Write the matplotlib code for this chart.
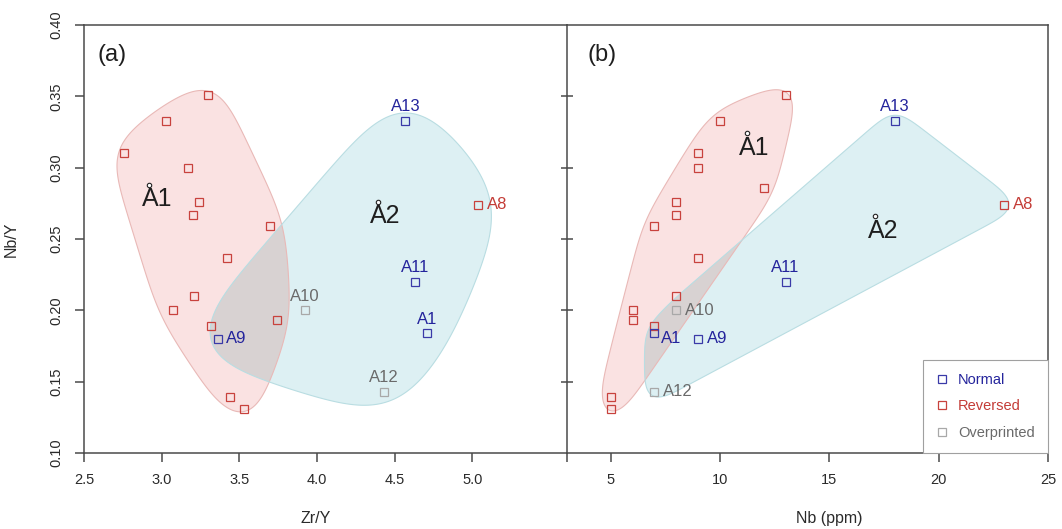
import numpy as np
import matplotlib
matplotlib.use("Agg")
import matplotlib.pyplot as plt
from matplotlib.patches import Polygon
from matplotlib.lines import Line2D

plt.rcParams['font.family'] = ['Liberation Sans', 'DejaVu Sans']

# unlabelled reversed samples (group A1)
rev_zr_y = [2.76, 3.03, 3.30, 3.17, 3.24, 3.20, 3.70, 3.42, 3.21, 3.07, 3.32, 3.74, 3.44, 3.53]
rev_nb_y_a = [0.310, 0.333, 0.351, 0.300, 0.276, 0.267, 0.259, 0.237, 0.210, 0.200, 0.189, 0.193, 0.139, 0.131]
rev_nb = [9, 10, 13, 9, 12, 8, 8, 7, 9, 8, 6, 6, 7, 5, 5]
rev_nb_y_b = [0.310, 0.333, 0.351, 0.300, 0.286, 0.276, 0.267, 0.259, 0.237, 0.210, 0.200, 0.193, 0.189, 0.139, 0.131]

# labelled samples (group A2)
names = ['A1', 'A8', 'A9', 'A10', 'A11', 'A12', 'A13']
zr_y = [4.71, 5.04, 3.36, 3.92, 4.63, 4.43, 4.57]
nb = [7, 23, 9, 8, 13, 7, 18]
nb_y = [0.184, 0.274, 0.180, 0.200, 0.220, 0.143, 0.333]
polarity = ['Normal', 'Reversed', 'Normal', 'Overprinted', 'Normal', 'Overprinted', 'Normal']
where_a = ['above', 'right', 'right', 'above', 'above', 'above', 'above']
where_b = ['right_low', 'right', 'right', 'right', 'above', 'right', 'above']

# group name anchors
group_names = ['A1', 'A2']
group_a_x = [2.92, 4.39]
group_a_y = [0.288, 0.276]
group_b_x = [11.23, 17.1]
group_b_y = [0.324, 0.266]

mark_col = {'Normal': '#3a3aa8', 'Reversed': '#c8423d', 'Overprinted': '#a8a8a8'}
text_col = {'Normal': '#24249c', 'Reversed': '#c43c37', 'Overprinted': '#6a6a6a'}
red_fill, red_edge = '#fae2e2', '#e9b9b7'
blue_fill, blue_edge = '#ddf0f3', '#b9dde2'
both_fill = '#d8d2d2'
axis_col = '#4a4a4a'

W, H = 1062, 529
fig = plt.figure(figsize=(W / 100, H / 100), dpi=100)
ax1 = fig.add_axes([84 / W, (H - 453) / H, (567 - 84) / W, 428 / H])
ax2 = fig.add_axes([567 / W, (H - 453) / H, (1048 - 567) / W, 428 / H])
ax1.set_xlim(2.5, 5.61)
ax2.set_xlim(3, 25)
for ax in (ax1, ax2):
    ax.set_ylim(0.10, 0.40)


def convex_hull(pts):
    pts = sorted(map(tuple, pts))
    def cross(o, a, b):
        return (a[0] - o[0]) * (b[1] - o[1]) - (a[1] - o[1]) * (b[0] - o[0])
    lower, upper = [], []
    for p in pts:
        while len(lower) >= 2 and cross(lower[-2], lower[-1], p) <= 0:
            lower.pop()
        lower.append(p)
    for p in reversed(pts):
        while len(upper) >= 2 and cross(upper[-2], upper[-1], p) <= 0:
            upper.pop()
        upper.append(p)
    return np.array(lower[:-1] + upper[:-1])


def hull_outline(ax, xs, ys, r, sigma, n=400):
    # hull of discs of radius r (px) round each point, then smoothed along its perimeter
    pix = ax.transData.transform(np.column_stack([xs, ys]))
    ang = np.linspace(0, 2 * np.pi, 36, endpoint=False)
    ring = np.column_stack([np.cos(ang), np.sin(ang)]) * r
    cloud = (pix[:, None, :] + ring[None, :, :]).reshape(-1, 2)
    poly = convex_hull(cloud)
    closed = np.vstack([poly, poly[:1]])
    seg = np.hypot(*np.diff(closed, axis=0).T)
    cum = np.concatenate([[0], np.cumsum(seg)])
    t = np.linspace(0, cum[-1], n, endpoint=False)
    pts = np.column_stack([np.interp(t, cum, closed[:, 0]), np.interp(t, cum, closed[:, 1])])
    step = cum[-1] / n
    half = int(3 * sigma / step)
    k = np.exp(-0.5 * (np.arange(-half, half + 1) * step / sigma) ** 2)
    k /= k.sum()
    wrapped = np.vstack([pts[-half:], pts, pts[:half]])
    smooth = np.column_stack([np.convolve(wrapped[:, j], k, mode='valid') for j in range(2)])
    return ax.transData.inverted().transform(smooth)


def draw_groups(ax, red_xy, blue_xy):
    red = Polygon(red_xy, closed=True, fc=red_fill, ec='none', zorder=1)
    blue = Polygon(blue_xy, closed=True, fc=blue_fill, ec='none', zorder=1)
    ax.add_patch(red)
    ax.add_patch(blue)
    both = Polygon(red_xy, closed=True, fc=both_fill, ec='none', zorder=1.5)
    ax.add_patch(both)
    both.set_clip_path(blue)
    ax.add_patch(Polygon(red_xy, closed=True, fill=False, ec=red_edge, lw=0.8, zorder=2))
    ax.add_patch(Polygon(blue_xy, closed=True, fill=False, ec=blue_edge, lw=0.8, zorder=2))


def draw_points(ax, rx, ry, xs, ys, where):
    ax.plot(rx, ry, ls='none', marker='s', ms=5.2, mfc='none', mec=mark_col['Reversed'], mew=0.9, zorder=3)
    for name, x, y, pol, w in zip(names, xs, ys, polarity, where):
        ax.plot(x, y, ls='none', marker='s', ms=5.2, mfc='none', mec=mark_col[pol], mew=0.9, zorder=3)
        if w == 'above':
            off, ha = (0, 10), 'center'
        elif w == 'right_low':
            off, ha = (5, -4), 'left'
        else:
            off, ha = (6, 0), 'left'
        ax.annotate(name, (x, y), xytext=off, textcoords='offset points', ha=ha, va='center',
                    fontsize=12, color=text_col[pol], zorder=4)


def draw_group_names(ax, gx, gy):
    ax.plot(gx, gy, ls='none', marker='o', ms=3.2, mfc='white', mec='#222222', mew=0.8, zorder=4)
    for g, x, y in zip(group_names, gx, gy):
        ax.annotate(g, (x, y), xytext=(5.5, -10.5), textcoords='offset points', ha='center',
                    va='center', fontsize=18, color='#1e1e1e', zorder=4)


# panel (a): Zr/Y vs Nb/Y
draw_groups(ax1,
            hull_outline(ax1, rev_zr_y, rev_nb_y_a, r=15, sigma=26),
            hull_outline(ax1, zr_y, nb_y, r=26, sigma=42))
draw_points(ax1, rev_zr_y, rev_nb_y_a, zr_y, nb_y, where_a)
draw_group_names(ax1, group_a_x, group_a_y)

# panel (b): Nb vs Nb/Y
draw_groups(ax2,
            hull_outline(ax2, rev_nb, rev_nb_y_b, r=12, sigma=20),
            hull_outline(ax2, nb, nb_y, r=10, sigma=13))
draw_points(ax2, rev_nb, rev_nb_y_b, nb, nb_y, where_b)
draw_group_names(ax2, group_b_x, group_b_y)

ax1.text(0.028, 0.93, '(a)', transform=ax1.transAxes, fontsize=17, va='center', color='#1e1e1e')
ax2.text(0.042, 0.93, '(b)', transform=ax2.transAxes, fontsize=17, va='center', color='#1e1e1e')

# axes styling
for ax in (ax1, ax2):
    for sp in ax.spines.values():
        sp.set_color(axis_col)
        sp.set_linewidth(1.1)
ax1.spines['right'].set_visible(False)

ax1.set_xticks([2.5, 3.0, 3.5, 4.0, 4.5, 5.0])
ax1.set_xticklabels(['2.5', '3.0', '3.5', '4.0', '4.5', '5.0'])
ax1.set_yticks([0.10, 0.15, 0.20, 0.25, 0.30, 0.35, 0.40])
ax1.set_yticklabels(['0.10', '0.15', '0.20', '0.25', '0.30', '0.35', '0.40'],
                    rotation=90, va='center')
ax1.tick_params(axis='both', direction='out', length=6.5, width=1.1, color=axis_col,
                labelsize=10.5, labelcolor='#2a2a2a', pad=8)

ax2.set_xticks([5, 10, 15, 20, 25])
ax2.set_xticklabels(['5', '10', '15', '20', '25'])
ax2.set_xticks([3], minor=True)
ax2.set_yticks([0.15, 0.20, 0.25, 0.30, 0.35])
ax2.tick_params(axis='x', which='both', direction='out', length=6.5, width=1.1, color=axis_col,
                labelsize=10.5, labelcolor='#2a2a2a', pad=8)
ax2.tick_params(axis='y', direction='inout', length=8, width=1.1, color=axis_col, labelleft=False)

ax1.set_xlabel('Zr/Y', fontsize=11.5, color='#2a2a2a')
ax1.xaxis.set_label_coords(0.48, -0.135)
ax1.set_ylabel('Nb/Y', fontsize=11.5, color='#2a2a2a')
ax1.yaxis.set_label_coords(-0.135, 0.5)
ax2.set_xlabel('Nb (ppm)', fontsize=11.5, color='#2a2a2a')
ax2.xaxis.set_label_coords(0.545, -0.135)

handles = [Line2D([], [], ls='none', marker='s', ms=5.2, mfc='none', mec=mark_col[p], mew=0.9)
           for p in ['Normal', 'Reversed', 'Overprinted']]
leg = ax2.legend(handles, ['Normal', 'Reversed', 'Overprinted'], loc='lower right',
                 borderaxespad=0, fancybox=False, framealpha=1, edgecolor='#a0a0a0',
                 fontsize=10.5, handlelength=0.8, handletextpad=0.7, labelspacing=0.85,
                 borderpad=0.9,
                 labelcolor=[text_col['Normal'], text_col['Reversed'], text_col['Overprinted']])
leg.get_frame().set_linewidth(0.8)
leg.set_zorder(5)

fig.savefig('out.png', dpi=100)
